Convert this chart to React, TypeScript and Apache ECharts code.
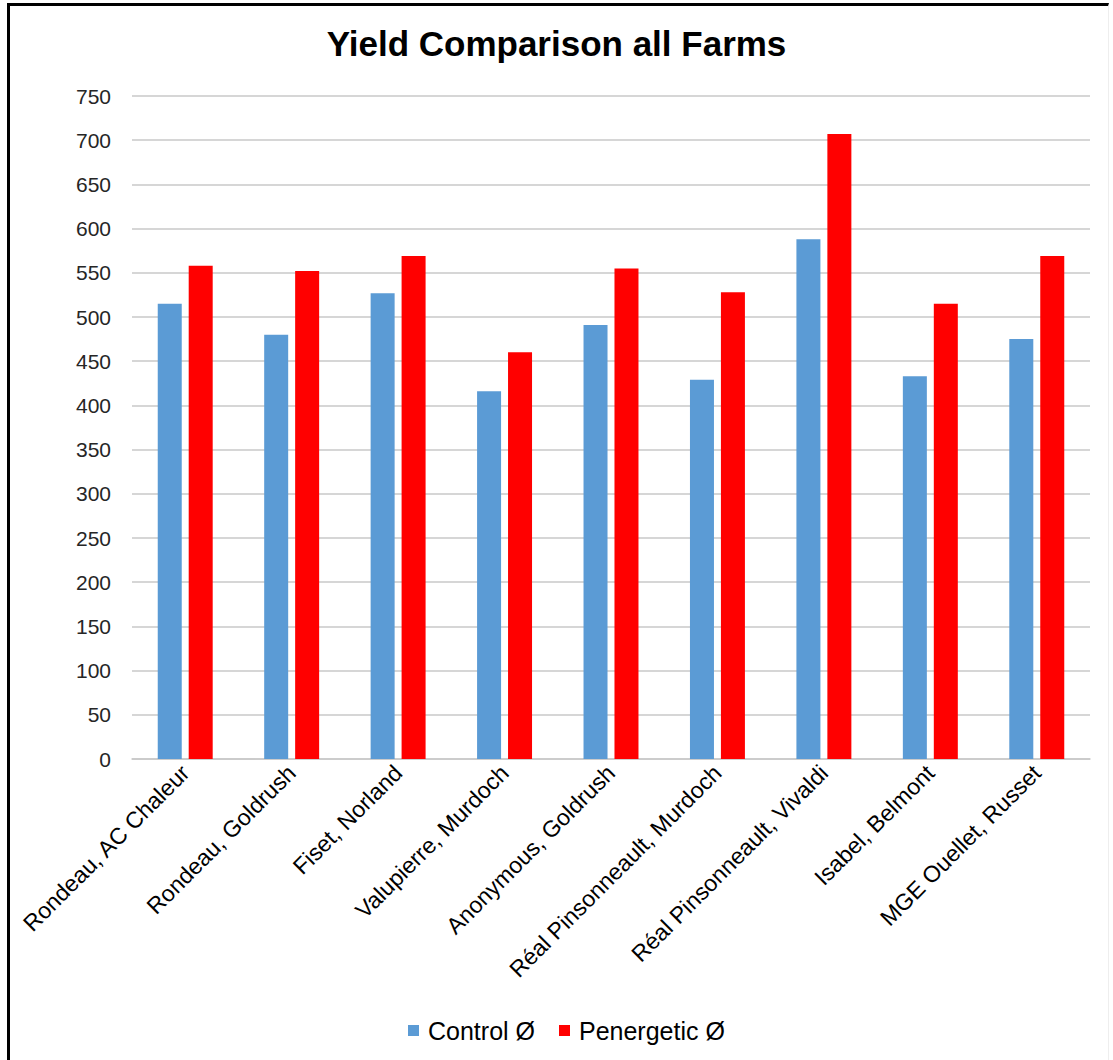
import React, { useEffect, useRef } from "react";
import * as echarts from "echarts";

const categories = [
  "Rondeau, AC Chaleur",
  "Rondeau, Goldrush",
  "Fiset, Norland",
  "Valupierre, Murdoch",
  "Anonymous, Goldrush",
  "Réal Pinsonneault, Murdoch",
  "Réal Pinsonneault, Vivaldi",
  "Isabel, Belmont",
  "MGE Ouellet, Russet",
];
const controlValues = [515, 480, 527, 416, 491, 429, 588, 433, 475];
const penergeticValues = [558, 552, 569, 460, 555, 528, 707, 515, 569];
const seriesNames = ["Control Ø", "Penergetic Ø"];
const titleText = "Yield Comparison all Farms";

export default function App() {
  const ref = useRef<HTMLDivElement>(null);
  useEffect(() => {
    if (!ref.current) return;
    const chart = echarts.init(ref.current, undefined, { renderer: "svg" });
    const font = "Liberation Sans, Arial, sans-serif";
    chart.setOption({
      animation: false,
      backgroundColor: "#ffffff",
      textStyle: { fontFamily: font },
      title: {
        text: titleText,
        left: "center",
        top: 21,
        textStyle: { fontSize: 35, fontWeight: "bold", color: "#000", fontFamily: font },
      },
      legend: {
        top: 1013,
        left: 403,
        icon: "rect",
        itemWidth: 11,
        itemHeight: 11,
        itemGap: 24,
        textStyle: { fontSize: 25, color: "#000", fontFamily: font, padding: [0, 0, 0, 4] },
        data: seriesNames,
      },
      grid: { left: 132, right: 23, top: 96, bottom: 301, containLabel: false },
      xAxis: {
        type: "category",
        data: categories,
        axisLine: { lineStyle: { color: "#c8c8c8", width: 1.5 } },
        axisTick: { show: false },
        axisLabel: {
          rotate: 45,
          fontSize: 23,
          color: "#000",
          margin: 10,
          interval: 0,
          fontFamily: font,
        },
      },
      yAxis: {
        type: "value",
        min: 0,
        max: 750,
        interval: 50,
        axisLine: { show: false },
        axisTick: { show: false },
        axisLabel: { fontSize: 21, color: "#262626", margin: 21, fontFamily: font },
        splitLine: { lineStyle: { color: "#c8c8c8", width: 1.5 } },
      },
      series: [
        {
          name: seriesNames[0],
          type: "bar",
          data: controlValues,
          barWidth: 24,
          barGap: "29%",
          itemStyle: { color: "#5B9BD5" },
        },
        {
          name: seriesNames[1],
          type: "bar",
          data: penergeticValues,
          barWidth: 24,
          barGap: "29%",
          itemStyle: { color: "#FF0000" },
        },
      ],
    });
    return () => chart.dispose();
  }, []);
  return (
    <div style={{ position: "absolute", left: 0, top: 0, width: 1113, height: 1060, background: "#fff" }}>
      <div ref={ref} style={{ position: "absolute", left: 0, top: 0, width: 1113, height: 1060 }} />
      <div
        style={{
          position: "absolute",
          left: 7,
          top: 3,
          width: 1102,
          height: 1057,
          borderLeft: "3px solid #000",
          borderTop: "3px solid #000",
          borderRight: "1px solid #eeeeee",
          pointerEvents: "none",
          boxSizing: "border-box",
        }}
      />
    </div>
  );
}
